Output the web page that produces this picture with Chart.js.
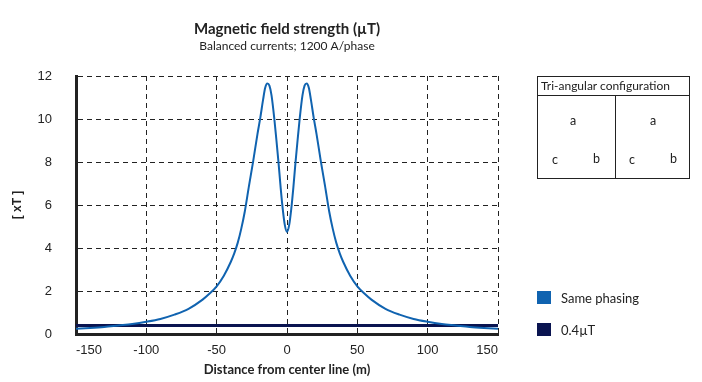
<!DOCTYPE html>
<html>
<head>
<meta charset="utf-8">
<script src="https://cdn.jsdelivr.net/npm/chart.js@4/dist/chart.umd.min.js"></script>
<style>
  html, body { margin:0; padding:0; background:#fff; }
  #wrap { position:relative; width:702px; height:382px; }
  canvas { position:absolute; left:0; top:0; }
  .cfg { position:absolute; left:537px; top:76px; width:153px; height:103px; border:1px solid #222; box-sizing:border-box; font-family:Lato, "Open Sans", sans-serif; color:#222; }
  .cfg .hd { position:absolute; left:0; top:0; right:0; height:18px; border-bottom:1px solid #222; font-size:12px; line-height:18px; padding-left:3px; }
  .cfg .div { position:absolute; left:77px; top:18px; bottom:0; border-left:1px solid #222; }
  .cfg span { position:absolute; font-size:12.5px; }
  .leg { position:absolute; left:537px; font-family:Lato, "Open Sans", sans-serif; font-size:13px; color:#222; height:14px; line-height:14px; }
  .leg i { display:inline-block; width:14px; height:13px; vertical-align:top; margin-right:10px; }
</style>
</head>
<body>
<div id="wrap">
<canvas id="c" width="702" height="382"></canvas>
<div class="cfg">
  <div class="hd">Tri-angular configuration</div>
  <div class="div"></div>
  <span style="left:32px;top:36px">a</span>
  <span style="left:14px;top:75px">c</span>
  <span style="left:55px;top:74px">b</span>
  <span style="left:112px;top:36px">a</span>
  <span style="left:91px;top:75px">c</span>
  <span style="left:132px;top:74px">b</span>
</div>
<div id="legend"></div>
</div>
<script>
const titleText = "Magnetic field strength (µT)";
const subtitleText = "Balanced currents; 1200 A/phase";
const xAxisTitle = "Distance from center line (m)";
const yAxisTitle = "[ xT ]";
const seriesNames = ["Same phasing", "0.4µT"];
const seriesColors = ["#1063b0", "#0a1450"];

const distances = [-150,-140,-130,-120,-110,-100,-90,-80,-70,-60,-55,-50,-45,-40,-37.5,-35,-32.5,-30,-27,-24,-21,-19,-17,-15.5,-14,-12.5,-11,-9,-7.5,-6,-4.5,-3,-1.5,0,
                   1.5,3,4.5,6,7.5,9,11,12.5,14,15.5,17,19,21,24,27,30,32.5,35,37.5,40,45,50,55,60,70,80,90,100,110,120,130,140,150];
const samePhasing = [0.24,0.28,0.33,0.40,0.47,0.57,0.70,0.90,1.17,1.6,1.88,2.22,2.7,3.35,3.75,4.25,4.9,5.7,6.9,8.05,9.3,10.05,10.9,11.45,11.65,11.55,11.1,10.0,9.0,7.95,6.8,5.8,5.05,4.75,
                     5.05,5.8,6.8,7.95,9.0,10.0,11.1,11.55,11.65,11.45,10.9,10.05,9.3,8.05,6.9,5.7,4.9,4.25,3.75,3.35,2.7,2.22,1.88,1.6,1.17,0.90,0.70,0.57,0.47,0.40,0.33,0.28,0.24];
const limitX = [-150, 150];
const limitY = [0.4, 0.4];
const xTicks = [-150,-100,-50,0,50,100,150];
const yTicks = [0,2,4,6,8,10,12];

// legend
const leg = document.getElementById('legend');
seriesNames.forEach((n,i)=>{
  const d = document.createElement('div');
  d.className='leg';
  d.style.top = (291 + i*32) + 'px';
  d.innerHTML = '<i style="background:'+seriesColors[i]+'"></i>' + n;
  leg.appendChild(d);
});

const titlePlugin = {
  id:'titles',
  afterDraw(chart){
    const ctx = chart.ctx, a = chart.chartArea;
    const cx = (a.left + a.right)/2;
    ctx.save();
    ctx.fillStyle = '#222';
    ctx.textAlign = 'center';
    ctx.textBaseline = 'middle';
    ctx.font = 'bold 15px Lato, "Open Sans", sans-serif';
    ctx.fillText(titleText, cx, 29);
    ctx.font = '12px Lato, "Open Sans", sans-serif';
    ctx.fillText(subtitleText, cx, 46);
    ctx.restore();
  }
};

new Chart(document.getElementById('c'), {
  type:'line',
  data:{
    datasets:[
      { label: seriesNames[0], data: distances.map((x,i)=>({x, y: samePhasing[i]})), borderColor: seriesColors[0], borderWidth:2, pointRadius:0, cubicInterpolationMode:'monotone', order:0 },
      { label: seriesNames[1], data: limitX.map((x,i)=>({x, y: limitY[i]})), borderColor: seriesColors[1], borderWidth:3, pointRadius:0, order:1 }
    ]
  },
  options:{
    responsive:false,
    animation:false,
    layout:{ padding:{ top:76, right:204, left:0, bottom:0 } },
    plugins:{ legend:{display:false}, tooltip:{enabled:false}, title:{display:false} },
    scales:{
      x:{
        type:'linear', min:-150, max:150,
        afterBuildTicks(s){ s.ticks = xTicks.map(v=>({value:v})); },
        afterFit(s){ s.height = 48; },
        grid:{ color:'#222', lineWidth:1, drawTicks:false },
        border:{ display:true, color:'#222', width:3, dash:[5,4] },
        ticks:{ align:'inner', padding:9, color:'#222', font:{ family:'"Liberation Sans", Arial, sans-serif', size:13 } },
        title:{ display:true, text:xAxisTitle, color:'#222', font:{ family:'Lato, "Open Sans", sans-serif', size:13, weight:'bold' }, padding:{ top:0, bottom:4 } }
      },
      y:{
        type:'linear', min:0, max:12,
        afterBuildTicks(s){ s.ticks = yTicks.map(v=>({value:v})); },
        afterFit(s){ s.width = 76; },
        grid:{ color:'#222', lineWidth:1, drawTicks:false },
        border:{ display:true, color:'#222', width:3, dash:[5,4] },
        ticks:{ padding:24, color:'#222', font:{ family:'"Liberation Sans", Arial, sans-serif', size:13 } },
        title:{ display:true, text:yAxisTitle, color:'#222', font:{ family:'"Liberation Sans", Arial, sans-serif', size:12, weight:'bold' }, padding:{ top:10, bottom:0 } }
      }
    }
  },
  plugins:[titlePlugin]
});
</script>
</body>
</html>
